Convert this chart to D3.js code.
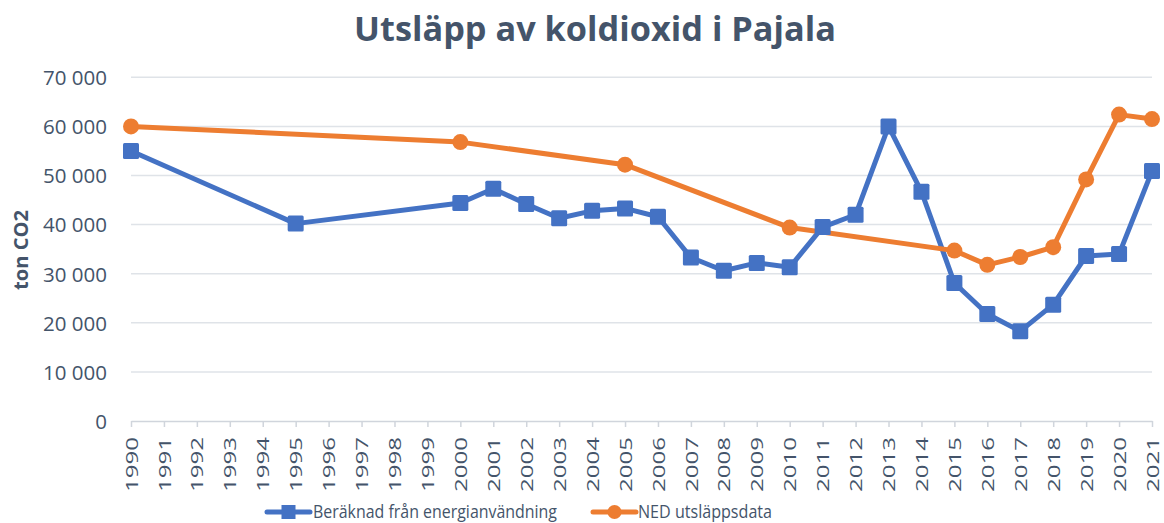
<!DOCTYPE html>
<html>
<head>
<meta charset="utf-8">
<script src="https://cdn.jsdelivr.net/npm/d3@7"></script>
<style>
  html, body { margin: 0; padding: 0; background: #ffffff; }
  svg { display: block; font-family: "Open Sans", "Noto Sans", sans-serif; }
</style>
</head>
<body>
<svg id="chart" width="1164" height="523"></svg>
<script>
// ---- Data ----
const years = d3.range(1990, 2022);
const blueYears = [1990, 1995, 2000, 2001, 2002, 2003, 2004, 2005, 2006, 2007, 2008, 2009, 2010, 2011, 2012, 2013, 2014, 2015, 2016, 2017, 2018, 2019, 2020, 2021];
const blueValues = [55000, 40200, 44400, 47300, 44200, 41300, 42800, 43300, 41600, 33300, 30600, 32200, 31300, 39500, 42000, 60000, 46700, 28100, 21800, 18300, 23700, 33600, 34000, 50900];
const orangeYears = [1990, 2000, 2005, 2010, 2015, 2016, 2017, 2018, 2019, 2020, 2021];
const orangeValues = [60000, 56800, 52200, 39400, 34700, 31800, 33400, 35400, 49200, 62400, 61500];
const yTicks = [0, 10000, 20000, 30000, 40000, 50000, 60000, 70000];
const seriesNames = ["Beräknad från energianvändning", "NED utsläppsdata"];
const titleText = "Utsläpp av koldioxid i Pajala";
const yAxisTitle = "ton CO2";

// ---- Layout ----
const textColor = "#44546a";
const blue = "#4472c4";
const orange = "#ed7d31";
const gridColor = "#dfe3e8";
const plotLeft = 131, plotRight = 1152, plotTop = 77.3, plotBottom = 421;

const svg = d3.select("#chart");

const x = d3.scalePoint().domain(years).range([plotLeft, plotRight]);
const y = d3.scaleLinear().domain([0, 70000]).range([plotBottom, plotTop]);

const fmt = v => d3.format(",")(v).replace(/,/g, " ");

// Gridlines
svg.append("g")
  .selectAll("line")
  .data(yTicks.filter(d => d > 0))
  .join("line")
  .attr("x1", plotLeft).attr("x2", plotRight)
  .attr("y1", d => y(d)).attr("y2", d => y(d))
  .attr("stroke", gridColor).attr("stroke-width", 1.5);

// Y axis (labels only)
const yAxis = svg.append("g")
  .attr("transform", `translate(${plotLeft},0)`)
  .call(d3.axisLeft(y).tickValues(yTicks).tickFormat(fmt).tickSize(0).tickPadding(24));
yAxis.select(".domain").remove();
yAxis.selectAll("text")
  .attr("fill", textColor)
  .style("font-size", "20.5px")
  .style("font-family", "'Open Sans', sans-serif")
  .attr("dy", "0.36em");

// X axis
const xAxis = svg.append("g")
  .attr("transform", `translate(0,${plotBottom})`)
  .call(d3.axisBottom(x).tickSize(6).tickSizeOuter(0).tickPadding(0));
xAxis.select(".domain").attr("stroke", "#d0d5dc").attr("stroke-width", 1.5);
xAxis.selectAll(".tick line").attr("stroke", "#d0d5dc").attr("stroke-width", 1.5);
xAxis.selectAll("text")
  .attr("fill", textColor)
  .style("font-size", "17px")
  .style("font-family", "'Open Sans', sans-serif")
  .attr("text-anchor", "end")
  .attr("transform", "translate(0,16) rotate(-90)")
  .attr("x", 0)
  .attr("y", 0)
  .attr("dy", "0.36em")
  .attr("textLength", 55)
  .attr("lengthAdjust", "spacingAndGlyphs");

// Lines
const line = d3.line().x(d => x(d[0])).y(d => y(d[1]));
const blueData = d3.zip(blueYears, blueValues);
const orangeData = d3.zip(orangeYears, orangeValues);

svg.append("path").datum(blueData)
  .attr("d", line).attr("fill", "none")
  .attr("stroke", blue).attr("stroke-width", 5).attr("stroke-linejoin", "round").attr("stroke-linecap", "round");
svg.append("path").datum(orangeData)
  .attr("d", line).attr("fill", "none")
  .attr("stroke", orange).attr("stroke-width", 5).attr("stroke-linejoin", "round").attr("stroke-linecap", "round");

// Markers
const sq = 16;
svg.append("g").selectAll("rect")
  .data(blueData).join("rect")
  .attr("x", d => x(d[0]) - sq / 2).attr("y", d => y(d[1]) - sq / 2)
  .attr("width", sq).attr("height", sq).attr("rx", 1.5)
  .attr("fill", blue);
svg.append("g").selectAll("circle")
  .data(orangeData).join("circle")
  .attr("cx", d => x(d[0])).attr("cy", d => y(d[1])).attr("r", 8)
  .attr("fill", orange);

// Title
const title = svg.append("text")
  .attr("x", 595).attr("y", 41)
  .attr("text-anchor", "middle")
  .attr("fill", textColor)
  .style("font-weight", "bold")
  .style("font-size", "32px")
  .text(titleText);
{
  const w = title.node().getComputedTextLength();
  const target = 482;
  title.style("font-size", (32 * target / w).toFixed(2) + "px");
}

// Y axis title
svg.append("text")
  .attr("transform", "translate(28,250) rotate(-90)")
  .attr("text-anchor", "middle")
  .attr("fill", textColor)
  .style("font-weight", "bold")
  .style("font-size", "19px")
  .attr("textLength", 80)
  .attr("lengthAdjust", "spacingAndGlyphs")
  .text(yAxisTitle);

// Legend
const legend = [
  { name: seriesNames[0], color: blue, shape: "square", x0: 267, x1: 310, tx: 313, tw: 244 },
  { name: seriesNames[1], color: orange, shape: "circle", x0: 593, x1: 636, tx: 638, tw: 134 }
];
const ly = 512;
const lg = svg.append("g").selectAll("g").data(legend).join("g");
lg.append("line")
  .attr("x1", d => d.x0).attr("x2", d => d.x1)
  .attr("y1", ly).attr("y2", ly)
  .attr("stroke", d => d.color).attr("stroke-width", 5).attr("stroke-linecap", "round");
lg.filter(d => d.shape === "square").append("rect")
  .attr("x", d => (d.x0 + d.x1) / 2 - 7).attr("y", ly - 7)
  .attr("width", 14).attr("height", 14).attr("fill", d => d.color);
lg.filter(d => d.shape === "circle").append("circle")
  .attr("cx", d => (d.x0 + d.x1) / 2).attr("cy", ly).attr("r", 7)
  .attr("fill", d => d.color);
lg.append("text")
  .attr("x", d => d.tx).attr("y", ly)
  .attr("dy", "0.33em")
  .attr("fill", textColor)
  .style("font-size", "18.5px")
  .attr("textLength", d => d.tw)
  .attr("lengthAdjust", "spacingAndGlyphs")
  .text(d => d.name);
</script>
</body>
</html>
